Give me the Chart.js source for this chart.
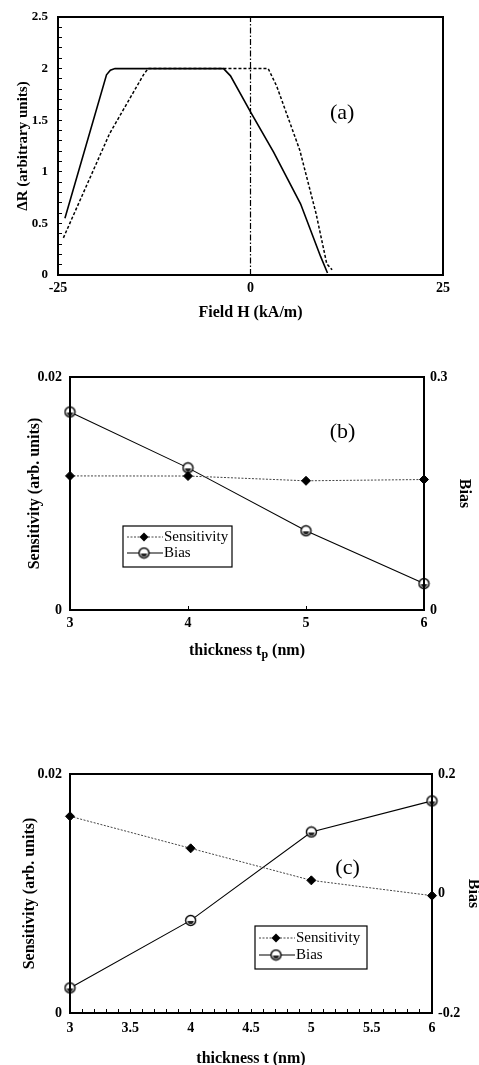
<!DOCTYPE html>
<html>
<head>
<meta charset="utf-8">
<script src="https://cdn.jsdelivr.net/npm/chart.js@4.4.1/dist/chart.umd.min.js"></script>
<style>
html,body{margin:0;padding:0;background:#fff;overflow:hidden}
body{width:479px;height:1065px;position:relative}
.panel{position:absolute;left:0}
#pa{top:0;width:479px;height:325px}
#pb{top:330px;width:479px;height:335px}
#pc{top:700px;width:485px;height:368px}
</style>
</head>
<body>
<div class="panel" id="pa"><canvas id="cA"></canvas></div>
<div class="panel" id="pb"><canvas id="cB"></canvas></div>
<div class="panel" id="pc"><canvas id="cC"></canvas></div>
<script>
// (a) ΔR vs field, two sweep directions + zero-field marker
const fieldSolid  = [-24.1, -18.7, -18.2, -17.6, -3.5, -2.6, 0, 3, 6.5, 9.1, 10];
const dRSolid     = [0.55, 1.94, 1.985, 2.0, 2.0, 1.93, 1.58, 1.19, 0.69, 0.18, 0.02];
const fieldDashed = [-24.3, -18.3, -13.9, -13.3, 2.3, 3.4, 6.4, 8.5, 9.9, 10.6];
const dRDashed    = [0.36, 1.37, 1.94, 2.0, 2.0, 1.83, 1.21, 0.6, 0.11, 0.05];
const fieldZero   = [0, 0];
const dRZero      = [0, 2.5];

// (b) vs pinned-layer thickness tp
const thickB = [3, 4, 5, 6];
const sensB  = [0.01151, 0.0115, 0.01109, 0.0112];
const biasB  = [0.255, 0.183, 0.102, 0.034];

// (c) vs thickness t
const thickC = [3, 4, 5, 6];
const sensC  = [0.01646, 0.01378, 0.0111, 0.00982];
const biasC  = [-0.158, -0.045, 0.103, 0.155];

const SERIF = '"Liberation Serif","DejaVu Serif","Times New Roman",serif';
Chart.defaults.font.family = SERIF;
Chart.defaults.color = "#000";
Chart.defaults.animation = false;

const xy = (xs, ys) => xs.map((x, i) => ({x, y: ys[i]}));
const every = step => v => { const k = v / step; return Math.abs(k - Math.round(k)) < 1e-6 ? String(+v.toFixed(3)) : ""; };

function ball(r) {
  const s = Math.ceil(2 * r + 3), c = document.createElement("canvas");
  c.width = c.height = s;
  const g = c.getContext("2d"), m = s / 2;
  g.fillStyle = "#fff"; g.beginPath(); g.arc(m, m, r, 0, 2 * Math.PI); g.fill();
  g.fillStyle = "#222"; g.beginPath(); g.arc(m, m + 0.4, r * 0.62, 0, Math.PI); g.fill();
  g.strokeStyle = "#000"; g.lineWidth = 1.4; g.beginPath(); g.arc(m, m, r, 0, 2 * Math.PI); g.stroke();
  return c;
}
const BALL = ball(5);

function axis(o) {
  return {
    type: "linear", position: o.pos, min: o.min, max: o.max,
    afterFit: s => {
      if (o.pos === "bottom") s.height = o.size;
      else { s.width = o.size; s.paddingTop = s.paddingBottom = 8; } // don't let tick padding push the plot down
    },
    border: {display: false},
    grid: {drawOnChartArea: false, drawTicks: !!o.tick, tickLength: -(o.tick || 0), tickColor: "#000", tickWidth: 1},
    ticks: {stepSize: o.step, autoSkip: false, maxRotation: 0, padding: o.pad, color: "#000",
            font: {size: o.fs || 14, weight: "bold"}, callback: every(o.label)},
    title: {display: !!o.title, text: o.title || "", color: "#000", font: {size: o.tfs || 16, weight: "bold"},
            padding: {top: o.tpad, bottom: o.tpad}},
  };
}

const frame = {id: "frame", afterDatasetsDraw(c) {
  const a = c.chartArea, g = c.ctx;
  g.save(); g.strokeStyle = "#000"; g.lineWidth = 2;
  g.strokeRect(a.left, a.top, a.right - a.left, a.bottom - a.top);
  g.restore();
}};

function tag(text, xv, yv) {
  return {id: "tag", afterDraw(c) {
    const g = c.ctx;
    g.save(); g.font = `22px ${SERIF}`; g.fillStyle = "#000"; g.textAlign = "center"; g.textBaseline = "middle";
    g.fillText(text, c.scales.x.getPixelForValue(xv), c.scales.y.getPixelForValue(yv));
    g.restore();
  }};
}

function marker(g, style, x, y) {
  if (style === "rectRot") {
    const r = 4.5;
    g.fillStyle = "#000"; g.beginPath();
    g.moveTo(x, y - r); g.lineTo(x + r, y); g.lineTo(x, y + r); g.lineTo(x - r, y); g.closePath(); g.fill();
  } else {
    g.drawImage(style, x - style.width / 2, y - style.height / 2);
  }
}

function boxLegend(dx, dy, w, h, row0, gap) {
  return {id: "boxLegend", afterDraw(c) {
    const a = c.chartArea, g = c.ctx, x = a.left + dx, y = a.top + dy;
    g.save();
    g.fillStyle = "#fff"; g.fillRect(x, y, w, h);
    g.strokeStyle = "#000"; g.lineWidth = 1.2; g.strokeRect(x, y, w, h);
    c.data.datasets.forEach((d, i) => {
      const yy = y + row0 + i * gap;
      g.setLineDash(d.borderDash || []); g.lineWidth = d.borderWidth; g.strokeStyle = d.borderColor;
      g.beginPath(); g.moveTo(x + 4, yy); g.lineTo(x + 40, yy); g.stroke(); g.setLineDash([]);
      marker(g, d.pointStyle, x + 21, yy);
      g.fillStyle = "#000"; g.font = `15px ${SERIF}`; g.textAlign = "left"; g.textBaseline = "middle";
      g.fillText(d.label, x + 41, yy);
    });
    g.restore();
  }};
}

// x-axis title with subscript, drawn under the axis
function subTitle(main, sub, tail, yPx) {
  return {id: "subTitle", afterDraw(c) {
    const g = c.ctx, a = c.chartArea, big = `bold 16px ${SERIF}`, small = `bold 12px ${SERIF}`;
    g.save(); g.fillStyle = "#000"; g.textBaseline = "alphabetic"; g.textAlign = "left";
    g.font = big; const w1 = g.measureText(main).width, w3 = g.measureText(tail).width;
    g.font = small; const w2 = g.measureText(sub).width;
    let x = (a.left + a.right) / 2 - (w1 + w2 + w3) / 2;
    g.font = big; g.fillText(main, x, yPx); x += w1;
    g.font = small; g.fillText(sub, x, yPx + 3); x += w2;
    g.font = big; g.fillText(tail, x, yPx);
    g.restore();
  }};
}

const base = (pad, scales) => ({
  responsive: true, maintainAspectRatio: false,
  layout: {padding: pad},
  plugins: {legend: {display: false}, tooltip: {enabled: false}},
  elements: {line: {tension: 0}},
  scales,
});

const sensStyle = {borderColor: "#444", borderWidth: 1, borderDash: [2, 1.5], pointStyle: "rectRot",
  pointRadius: 4.5, pointBackgroundColor: "#000", pointBorderColor: "#000", clip: false};
const biasStyle = {borderColor: "#000", borderWidth: 1.1, pointStyle: BALL, pointRadius: 5, clip: false};

new Chart(document.getElementById("cA"), {
  type: "line",
  data: {datasets: [
    {label: "solid", data: xy(fieldSolid, dRSolid), borderColor: "#000", borderWidth: 1.6, pointRadius: 0},
    {label: "dashed", data: xy(fieldDashed, dRDashed), borderColor: "#000", borderWidth: 1.5, borderDash: [3, 2], pointRadius: 0},
    {label: "H=0", data: xy(fieldZero, dRZero), borderColor: "#000", borderWidth: 1.2, borderDash: [6, 2, 1.5, 2], pointRadius: 0},
  ]},
  options: base({left: 0, right: 36, top: 17, bottom: 0}, {
    x: axis({pos: "bottom", min: -25, max: 25, step: 25, label: 25, tick: 4, pad: 9, size: 50, title: "Field H (kA/m)", tpad: 3}),
    y: axis({pos: "left", min: 0, max: 2.5, step: 0.1, label: 0.5, tick: 4, pad: 14, fs: 13, size: 58,
             title: "ΔR (arbitrary units)", tfs: 15, tpad: 14}),
  }),
  plugins: [frame, tag("(a)", 11.9, 1.57)],
});

new Chart(document.getElementById("cB"), {
  type: "line",
  data: {datasets: [
    {label: "Sensitivity", data: xy(thickB, sensB), yAxisID: "y", ...sensStyle},
    {label: "Bias", data: xy(thickB, biasB), yAxisID: "y1", ...biasStyle},
  ]},
  options: base({left: 0, right: 0, top: 47, bottom: 0}, {
    x: axis({pos: "bottom", min: 3, max: 6, step: 1, label: 1, tick: 4, pad: 9, size: 55}),
    y: axis({pos: "left", min: 0, max: 0.02, step: 0.02, label: 0.02, tick: 0, pad: 8, size: 70, title: "Sensitivity (arb. units)", tpad: 25}),
    y1: axis({pos: "right", min: 0, max: 0.3, step: 0.3, label: 0.3, tick: 0, pad: 6, size: 55, title: "Bias", tpad: 5}),
  }),
  plugins: [frame, tag("(b)", 5.31, 0.01528), boxLegend(53, 149, 109, 41, 11, 16), subTitle("thickness t", "p", " (nm)", 325)],
});

new Chart(document.getElementById("cC"), {
  type: "line",
  data: {datasets: [
    {label: "Sensitivity", data: xy(thickC, sensC), yAxisID: "y", ...sensStyle},
    {label: "Bias", data: xy(thickC, biasC), yAxisID: "y1", ...biasStyle},
  ]},
  options: base({left: 0, right: 0, top: 74, bottom: 0}, {
    x: axis({pos: "bottom", min: 3, max: 6, step: 0.1, label: 0.5, tick: 4, pad: 11, size: 55, title: "thickness t (nm)", tpad: 0}),
    y: axis({pos: "left", min: 0, max: 0.02, step: 0.02, label: 0.02, tick: 0, pad: 8, size: 70, title: "Sensitivity (arb. units)", tpad: 20}),
    y1: axis({pos: "right", min: -0.2, max: 0.2, step: 0.2, label: 0.2, tick: 0, pad: 6, size: 53, title: "Bias", tpad: 2}),
  }),
  plugins: [frame, tag("(c)", 5.30, 0.01213), boxLegend(185, 152, 112, 43, 12, 17)],
});
</script>
</body>
</html>
